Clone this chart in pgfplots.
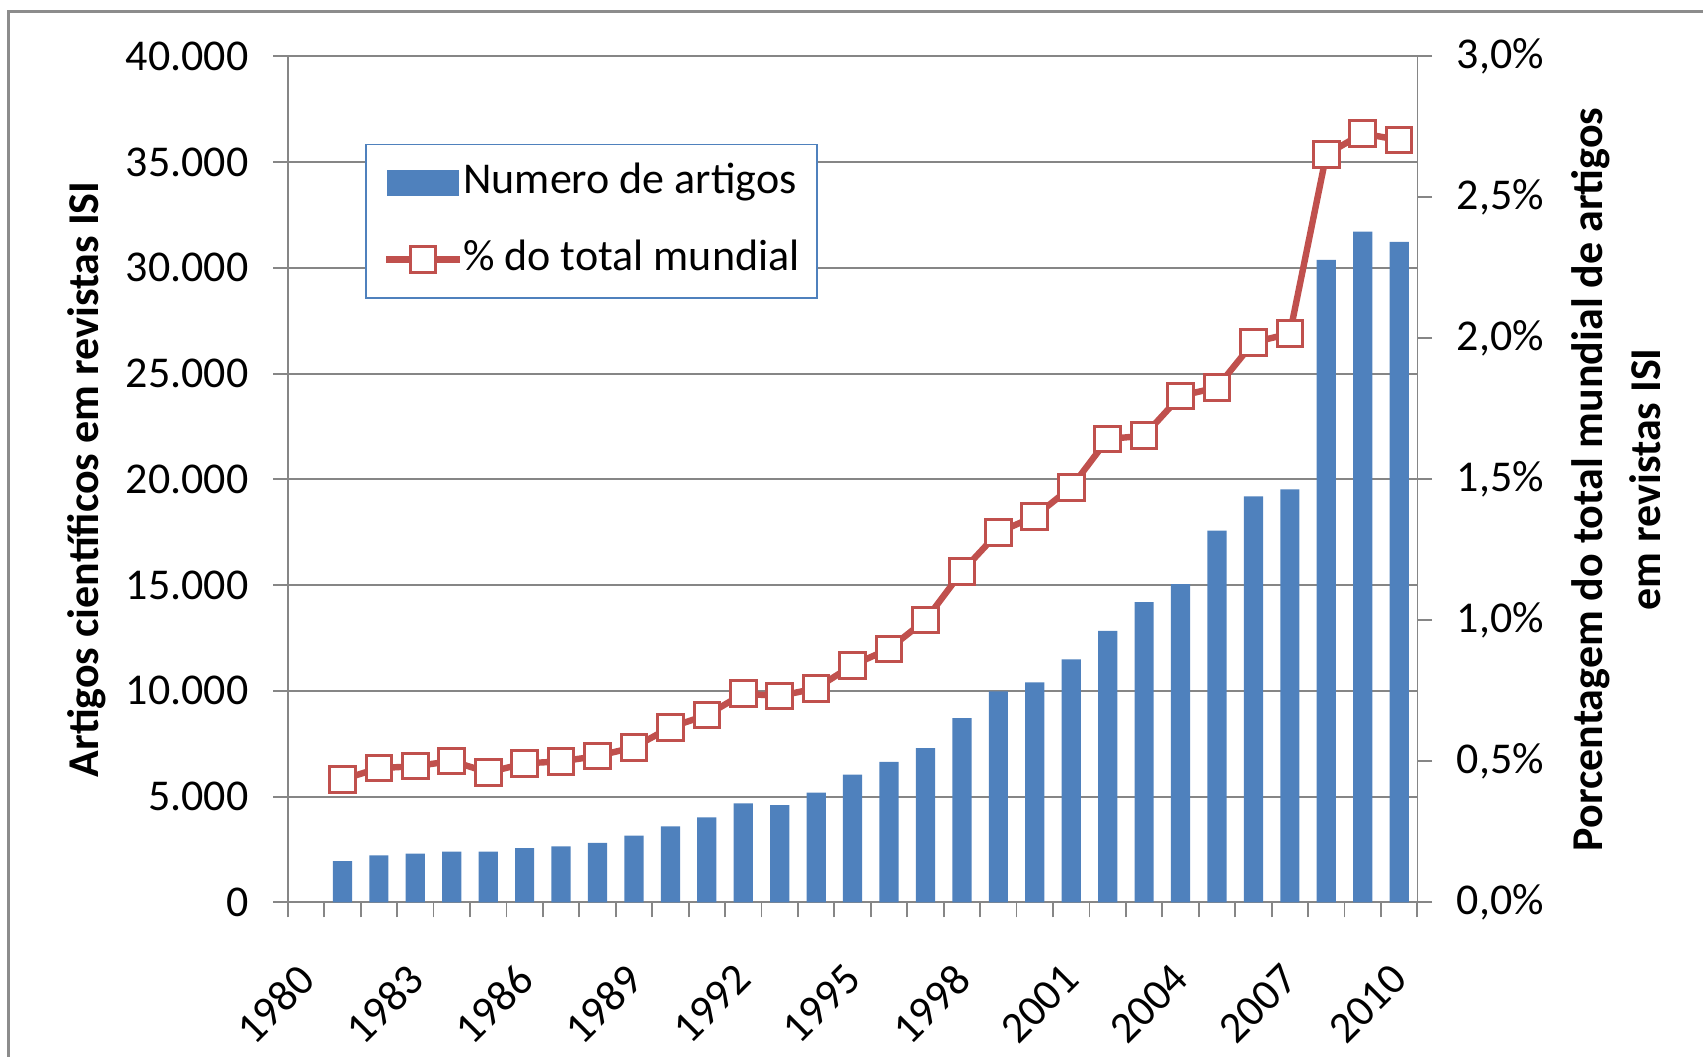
\documentclass[border=0pt]{standalone}
\usepackage{pgfplots}
\pgfplotsset{compat=1.18}
\usepackage{fontspec}
\setmainfont{Carlito}
\definecolor{barblue}{HTML}{4F81BD}
\definecolor{linered}{HTML}{C0504D}
\definecolor{gridgray}{HTML}{868686}
\definecolor{framegray}{HTML}{8C8C8C}

\pgfplotstableread{
year artigos
1981 1950
1982 2220
1983 2300
1984 2400
1985 2400
1986 2560
1987 2650
1988 2810
1989 3160
1990 3590
1991 4020
1992 4680
1993 4600
1994 5190
1995 6040
1996 6640
1997 7290
1998 8710
1999 9980
2000 10400
2001 11490
2002 12840
2003 14200
2004 15050
2005 17580
2006 19200
2007 19530
2008 30380
2009 31720
2010 31230
}\artigos

\pgfplotstableread{
year pct
1981 0.436
1982 0.476
1983 0.483
1984 0.501
1985 0.461
1986 0.493
1987 0.500
1988 0.519
1989 0.550
1990 0.621
1991 0.664
1992 0.740
1993 0.732
1994 0.759
1995 0.841
1996 0.899
1997 1.001
1998 1.173
1999 1.312
2000 1.369
2001 1.472
2002 1.643
2003 1.655
2004 1.796
2005 1.826
2006 1.986
2007 2.017
2008 2.652
2009 2.727
2010 2.703
}\pct

\begin{document}
\begin{tikzpicture}
\pgfplotsset{
  common/.style={
    scale only axis, width=282.4pt, height=211.5pt,
    xmin=1979.5, xmax=2010.5,
    font=\fontsize{11}{13.2}\selectfont,
    tick label style={font=\fontsize{11}{13.2}\selectfont},
    /pgf/number format/assume math mode=true,
    scaled y ticks=false,
    axis line style={gridgray, line width=0.45pt},
    tick align=outside,
    major tick length=3.7pt,
    minor tick length=3.75pt,
    tick style={gridgray, line width=0.45pt},
  }
}
\begin{axis}[
  common,
  axis x line*=bottom, axis y line*=left,
  ymin=0, ymax=40000,
  ytick={0,5000,10000,15000,20000,25000,30000,35000,40000},
  yticklabels={0,5.000,10.000,15.000,20.000,25.000,30.000,35.000,40.000},
  yticklabel style={xshift=-2.6pt},
  ymajorgrids,
  grid style={gridgray, line width=0.45pt},
  xtick={1980,1983,1986,1989,1992,1995,1998,2001,2004,2007,2010},
  xticklabels={1980,1983,1986,1989,1992,1995,1998,2001,2004,2007,2010},
  major x tick style={draw=none},
  minor xtick={1979.5,1980.5,...,2010.5},
  minor x tick style={gridgray, line width=0.45pt},
  xticklabel style={xshift=-2.5pt, yshift=-10.9pt, rotate=45, anchor=north east, inner sep=0pt},
  ylabel={Artigos científicos em revistas ISI},
  ylabel style={font=\fontsize{11}{13.2}\selectfont\bfseries, at={(axis description cs:-0.178,0.5)}, anchor=center},
]
\addplot[ybar, bar width=4.8pt, fill=barblue, draw=none, bar shift=0pt] table[x=year, y=artigos] {\artigos};
\end{axis}
\begin{axis}[
  common,
  axis y line*=right, axis x line=none,
  ymin=0, ymax=3,
  ytick={0,0.5,1,1.5,2,2.5,3},
  yticklabels={{0,0\%},{0,5\%},{1,0\%},{1,5\%},{2,0\%},{2,5\%},{3,0\%}},
  yticklabel style={xshift=2.6pt},
  ylabel={Porcentagem do total mundial de artigos\\em revistas ISI},
  ylabel style={font=\fontsize{11}{14.4}\selectfont\bfseries, align=center, at={(axis description cs:1.176,0.5)}, anchor=center},
  legend style={at={(axis description cs:0.0683,0.8967)}, anchor=north west,
    draw=barblue, line width=0.4pt, fill=white,
    inner xsep=4.3pt, inner ysep=4.3pt, column sep=0pt, row sep=8.7pt,
    nodes={inner sep=0pt, text height=8pt, text depth=2.5pt},
    font=\fontsize{11}{13.2}\selectfont},
  legend cell align=left,
]
\addlegendimage{legend image code/.code={\fill[barblue] (0.5pt,-3.05pt) rectangle (17.9pt,3.05pt);}}
\addlegendentry{Numero de artigos}
\addplot[color=linered, line width=1.6pt, mark=square*, mark size=3.2pt,
  mark options={fill=white, draw=linered, line width=0.75pt},
  legend image code/.code={\draw[mark repeat=2,mark phase=2] plot coordinates {(0pt,0pt) (9.25pt,0pt) (18.5pt,0pt)};}]
  table[x=year, y=pct] {\pct};
\addlegendentry{\% do total mundial}
\end{axis}
\draw[framegray, line width=0.7pt] (-69.85pt,-38.65pt) -- (-69.85pt,222.7pt) -- (353.8pt,222.7pt);
\pgfresetboundingbox
\path[use as bounding box] (-71.95pt,-38.65pt) rectangle (353.8pt,225.6pt);
\end{tikzpicture}
\end{document}
